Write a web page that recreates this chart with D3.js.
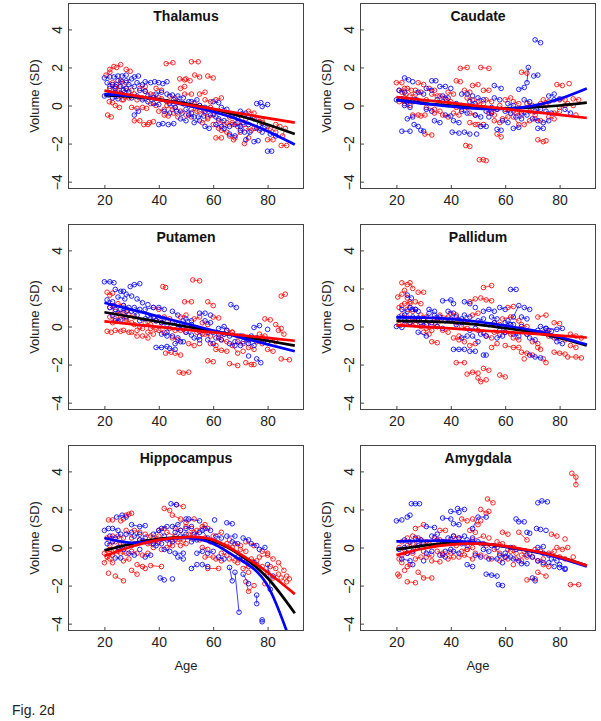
<!DOCTYPE html>
<html><head><meta charset="utf-8">
<script src="https://cdn.jsdelivr.net/npm/d3@7/dist/d3.min.js"></script>
<style>body{margin:0;background:#fff}</style>
</head><body>
<svg id="c" width="601" height="721" xmlns="http://www.w3.org/2000/svg"></svg>
<script>
// ---------- DATA ----------
const panelNames = ["Thalamus","Caudate","Putamen","Pallidum","Hippocampus","Amygdala"];
const xTicks = [20,40,60,80];
const yTicks = [-4,-2,0,2,4];
const fitAges = [20,30,40,50,60,70,80,90];

// tracks: [age, value, age, value, ...] per subject
const thalR = [[22,1.9,23.5,2.05],[24.5,2.0,26,2.15],[20.6,1.6,22,1.75],[28,1.9,29.5,1.8],[21.8,0.2,23,0.15],[21.2,-0.5,22.5,-0.6],[24,0.9,25.5,1.0],[25,0.5,26.5,0.3],[24,0.0,25.5,-0.1],[26,0.6,27.5,0.7],[27,0.3,29,0.4],[29.5,0.5,31,0.6],[23,1.2,24.5,1.1],[30,-0.1,32,-0.15],[34,-0.1,35.5,-0.15],[31,-0.8,33,-0.8],[34.5,-1.0,36,-1.0],[36.5,-0.9,38,-0.85],[42.7,2.2,45.2,2.25],[47.7,1.4,49.5,1.35],[50,1.4,51.5,1.3],[52,2.3,54.5,2.3],[53.2,1.6,55,1.5],[58,1.55,60,1.45],[35,0.75,37,0.6],[38,0.55,40,0.4],[41,0.35,43,0.2],[43,0.0,45,-0.2],[46,-0.1,48,-0.3],[42,-0.5,43.5,-0.55],[48,0.9,49.5,1.0],[49.5,0.6,52,0.6],[55,0.6,57,0.7],[57,0.3,59,0.2],[61,0.3,63,0.4],[52,-0.2,54,-0.3],[56,-0.9,58,-0.7],[59,-0.1,61,-0.3],[61,-1.7,63,-1.7],[62,-0.8,64,-1.0],[64,-0.4,66,-0.6],[66,-1.6,67.5,-1.8],[68,-1.7,70,-1.4],[67,-0.9,69,-1.1],[71.5,-2.0,73,-1.7],[70,-0.5,72,-0.7],[73,-0.3,75,-0.4],[75,-1.2,77,-1.3],[80,-1.8,82,-1.8],[83,-1.0,84.5,-1.1],[85,-2.1,87,-2.1],[85.5,-1.6,86.5,-1.2],[78,-0.9,80,-1.1],[45.5,-0.4,47,-0.6],[37,0.1,39,0.0],
  [22,1.0,24,0.9],[23,0.6,25,0.7],[26,1.3,28,1.2],[28,0.9,30,0.8],[32,0.3,34,0.4],[33,0.9,35,1.0],[39,0.9,41,0.8],[40,-0.3,42,-0.2],[44,0.5,46,0.4],[47,0.2,49,0.1],[50,-0.5,52,-0.6],[53,0.1,55,0.0],[55,-0.3,57,-0.4],[58,-0.6,60,-0.5],[60,-1.0,62,-1.2],[63,-1.3,65,-1.4],[65,-0.9,67,-1.0],[69,-0.9,71,-1.0],[72,-1.2,74,-1.3],[76,-0.7,78,-0.8],[81,-1.2,83,-1.4]];
const thalB = [[20,1.45,22,1.5],[23.5,1.5,25,1.55],[26.5,1.55,28,1.6],[25,1.3,26.5,1.25],[28,1.3,30,1.4],[31,1.5,32.5,1.55],[32,1.2,34,1.1],[35,1.25,37,1.2],[38.5,1.25,40,1.2],[41.5,1.15,43,1.25],[20,0.5,21.5,0.55],[23,0.4,25,0.35],[24,0.7,26,0.65],[27,0.8,29,0.7],[31,-0.5,32.5,-0.3],[33,0.8,35,0.75],[36,0.5,38,0.4],[40,-1.0,41.5,-0.95],[43.5,-1.0,45.5,-0.95],[38,0.1,40,0.05],[43,0.6,45,0.55],[45.5,0.3,47.5,0.2],[46.5,-0.3,48.5,-0.4],[49,0.1,51,0.2],[52,0.2,54,0.3],[54.5,-0.6,56.5,-0.55],[57,-0.3,58.5,-0.2],[57,-1.1,58.5,-1.2],[50,-0.2,52,-0.4],[60,0.2,62,0.15],[63,-0.1,65,-0.2],[62,-0.7,64,-0.8],[66,-1.5,68,-1.6],[67,-0.5,69,-0.7],[70,-1.3,71.5,-1.4],[72,-1.8,73.5,-1.4],[75,-1.9,76.5,-1.85],[71,-0.9,73,-1.0],[76,0.1,77.5,0.15],[78,-0.05,80,0.05],[80,-2.4,81.5,-2.4],[76,-1.2,78,-1.4],[44,0.1,46,-0.1],[53,-0.9,55,-0.8],
  [21,1.2,23,1.1],[22,0.9,24,1.0],[26,1.0,28,0.9],[29,1.1,31,1.0],[30,0.4,32,0.5],[34,0.3,36,0.2],[39,0.6,41,0.7],[42,-0.3,44,-0.4],[47,0.5,49,0.4],[48,-0.7,50,-0.8],[51,-0.5,53,-0.6],[55,0.0,57,-0.1],[59,-0.5,61,-0.6],[61,-1.0,63,-1.1],[64,-1.2,66,-1.1],[68,-1.0,70,-1.1],[70,-0.3,72,-0.4],[73,-0.6,75,-0.7],[77,-1.0,79,-1.1],[81,-1.5,83,-1.6]];
const caudR = [[20,1.2,22,1.2],[22,0.7,23.5,0.6],[23,0.4,24.5,0.3],[24,0.9,25.5,0.8],[25,0.5,27,0.6],[26,0.2,27.5,0.3],[28,1.2,30,1.1],[21,0.2,22.5,0.25],[26,-0.5,28,-0.5],[29,-0.55,30.5,-0.5],[30.5,-1.5,33,-1.55],[31,-0.1,34,-0.2],[33,0.6,35,0.5],[36,0.5,38,0.4],[38.5,0.3,40,0.2],[37,-0.5,39,-0.6],[42,1.3,43.5,1.25],[43.5,1.95,46,2.0],[45.5,-2.1,47,-2.15],[41,-0.4,43,-0.5],[44,0.0,46,-0.1],[48,1.05,50,1.1],[52,0.8,54,0.8],[51,2.0,54,1.95],[50.5,-2.85,52,-2.85],[53,-2.9],[47,-0.9,49,-1.0],[50,-1.0,52,-1.0],[46,0.4,48,0.3],[50,0.2,52,0.1],[54,-0.4,56,-0.5],[57,-1.5,58.5,-1.65],[56,-0.8,58,-0.9],[60,0.3,62,0.4],[63,0.2,65,0.1],[58,0.0,60,-0.2],[66,1.75,68,1.7],[63,-0.6,65,-1.0],[67,-1.0,69,-0.8],[69,-0.3,71,-0.5],[72,-1.8,74,-1.9],[75,-1.85],[73,0.1,75,0.0],[79,1.1,81,1.05],[83.5,1.15],[80,0.3,82,0.3],[85,0.35,87,0.3],[78,-0.4,80,-0.3],[86,-0.5],[76,-0.6,78,-0.7],
  [21,0.8,23,0.9],[23,0.1,25,0.0],[27,0.8,29,0.7],[29,0.2,31,0.3],[32,0.9,34,0.8],[34,-0.4,36,-0.3],[39,0.7,41,0.6],[42,-0.1,44,-0.2],[45,0.8,47,0.7],[47,-0.4,49,-0.5],[53,0.3,55,0.2],[55,-0.3,57,-0.2],[59,-0.7,61,-0.6],[61,-0.2,63,-0.3],[64,-0.4,66,-0.5],[68,0.1,70,0.0],[71,-0.7,73,-0.8],[74,0.3,76,0.2],[80,-0.1,82,0.0],[83,0.1,85,0.0]];
const caudB = [[20,0.3,22,0.35],[23,1.45,24.5,1.35],[26,1.25],[22,-1.35,25,-1.35],[24,-0.7,26,-0.6],[26.5,-1.0,28,-1.1],[29,-1.3,30,-1.35],[24,0.2,26,0.3],[28,0.7,30,0.6],[33,1.3,34.5,1.3],[36,1.0,38,1.0],[40,0.9],[38,-0.5,40,-0.55],[40.5,-1.4,43,-1.45],[45,-1.4,47,-1.5],[49.5,-1.5],[44,0.6,46,0.6],[48,0.5],[42,0.1,44,0.0],[49,-0.5,51,-0.6],[54,-0.6],[51,-1.1,53,-1.1],[56,1.05,58.5,0.9],[57,-1.25,58.5,-1.3],[55,-0.1,57,-0.2],[60,-0.3,62,-0.4],[63,-1.2,65,-1.15],[65,0.85,67,0.95],[68,1.2,68.5,2.0],[70.5,1.55,72,1.6],[71,3.45,73,3.3],[70,-0.7,72,-0.8],[74,-0.9,76,-0.8],[72,-1.2,74,-1.2],[66,-0.4,68,-0.5],[78,0.3,80,0.35],[82,-0.2,84,-0.4],[35,0.3,37,0.2],[31,-0.2,33,-0.3],
  [21,0.8,23,0.7],[23,0.0,25,-0.1],[27,0.3,29,0.2],[31,0.9,33,0.8],[34,-0.8,36,-0.9],[37,0.5,39,0.4],[41,-0.8,43,-0.9],[44,-0.3,46,-0.4],[47,0.2,49,0.1],[50,0.4,52,0.3],[53,-0.3,55,-0.4],[56,0.4,58,0.3],[59,-0.8,61,-0.9],[61,0.1,63,0.0],[64,-0.6,66,-0.7],[67,0.3,69,0.2],[71,-0.3,73,-0.2],[75,-0.3,77,-0.4],[76,0.5,78,0.6]];
const putR = [[21,1.8,22,1.65,23,1.75],[22,1.0,23.5,1.1],[24,0.8,26,0.7],[25,1.2,27,1.1],[27,0.75,28.5,0.85],[21,-0.25,22.5,-0.3],[24,-0.2,26,-0.25],[27,-0.2,29,-0.3],[30,-0.3,32,-0.5],[34,-0.5,36,-0.6],[28,0.3,30,0.2],[31,0.1,33,0.0],[35,0.2,37,0.1],[41.5,2.1,42.5,2.05],[37,-0.1,39,-0.15],[40,-0.2,42,-0.3],[42.5,-1.4,44.5,-1.35],[46,-1.4,48,-1.5],[47.5,-2.4,49,-2.45,51,-2.4],[49.5,1.3,52,1.3],[52.5,2.45,55,2.4],[48,0.5,50,0.6],[53,0.4,55,0.5],[51,-0.9,53,-1.0],[55,-0.9],[44,-0.1,46,-0.2],[58,1.3,60,1.1],[58,-1.8,60,-1.85],[60,0.5,62,0.45],[61,-1.2,63,-1.25,65,-1.3],[57,-0.4,59,-0.5],[62,-0.6,64,-0.4],[66,-1.95,69,-2.05],[67,-1.0,69,-1.4],[71,-1.3],[67,-0.3,69,-0.5],[72,-1.9,74,-2.0,75,-2.0],[71,-0.5,73,-0.7],[79,0.4,81,0.35],[80,-1.2,82,-1.3],[84,-0.2,86,-0.4],[85,1.6,86.5,1.7],[85,-1.7,88,-1.75],[83,0.1,85,-0.1],[76,-0.8,78,-0.9],[38,1.0,40,0.9],
  [22,0.5,24,0.4],[23,0.2,25,0.3],[26,0.5,28,0.4],[29,0.6,31,0.5],[32,-0.2,34,-0.1],[36,-0.3,38,-0.4],[39,0.3,41,0.2],[42,0.5,44,0.4],[45,-0.6,47,-0.7],[48,-0.2,50,-0.3],[50,0.0,52,-0.1],[54,-0.3,56,-0.4],[56,0.2,58,0.1],[59,-0.9,61,-1.0],[63,-0.7,65,-0.8],[65,-0.2,67,-0.3],[69,-0.8,71,-0.9],[73,-1.1,75,-1.2],[77,-0.4,79,-0.5],[81,-0.7,83,-0.8]];
const putB = [[20,2.35,22,2.35,23.5,2.3],[24,1.95,26,1.85,27,1.85],[29.5,2.1,31,2.2,33,2.25],[25,1.55,27.5,1.45],[28,1.7,30,1.6],[32,1.45,34,1.25],[36,1.15],[24,0.3,26,0.35],[28,0.5],[22,1.0,24,0.9],[26,0.9,28,0.8],[30,0.8,32,0.6],[35,0.9,38,1.0],[40,1.0,42,0.9],[39,-1.1,41,-1.1,43,-1.05],[43,-0.3,45,-0.5],[47,-0.6,49,-0.8],[44,-1.15,46,-1.2],[45,0.8,47,0.6],[49,0.3],[37,0.4,39,0.3],[41,0.2,43,0.1],[50,-0.3,52,-0.45],[55,-0.5],[55,0.7,57,0.7],[59,0.6],[58,-0.7,60,-0.9],[62,-0.1,64,0.0,65,-0.2],[66.5,1.15,68.5,1.0],[68,-0.8,70,-1.0],[73,-0.9,75,-1.0],[73,-1.55],[76,-1.7,77.5,-1.9],[75,-0.05,77,0.05],[80,-0.15],[52,0.1,54,-0.1],[60,-0.3,62,-0.4],[70,-0.5,72,-0.6],[47,-0.1,49,0.0],
  [21,1.4,23,1.3],[23,0.6,25,0.7],[27,1.1,29,1.0],[31,1.0,33,0.9],[33,0.3,35,0.4],[36,0.6,38,0.5],[40,0.5,42,0.4],[41,-0.4,43,-0.5],[45,0.2,47,0.1],[46,-0.9,48,-0.8],[50,0.4,52,0.3],[53,-0.6,55,-0.7],[56,-0.2,58,-0.3],[57,0.3,59,0.2],[61,-0.6,63,-0.7],[64,-0.4,66,-0.5],[66,-0.9,68,-1.0],[71,-0.8,73,-0.7],[74,-0.5,76,-0.6],[78,-0.7,80,-0.8]];
const palR = [[22,2.3,24,2.2],[25,2.3,26,2.0],[23,1.9,24,1.5],[20.5,1.55,22,1.7],[21,1.0,22,1.1],[24,0.9,25,1.2],[26,0.8,27,0.9],[28,1.8,30,1.8],[21,0.1,23,0.1],[26,0.4,28,0.3],[30,-0.3,32,-0.4],[33,0.1,35,0.0],[33,-0.8,35,-0.85],[36,0.6,39,0.5],[29,0.6,31,0.5],[42,-1.9,45,-1.9],[43,-0.5,45,-0.8],[47,-1.0,49,-0.9],[47,1.3,49,1.45],[51,1.5,53,1.4,55,1.35],[52,2.05,55,2.15],[46,-2.5,48,-2.4,50,-2.45],[50,-2.7,51,-2.9,53,-2.8],[52,-2.2,54,-2.3],[55,-1.1,57,-0.9],[58,-2.55,60,-2.65],[60,-1.0,63,-1.1,65,-1.1],[61,1.0,63,1.05],[59,0.4,62,0.5,65,0.3],[40,0.3,42,0.2],[44,0.0,46,-0.1],[50,-0.2,52,-0.3],[56,-0.3,58,-0.4],[66,-1.35,68,-1.4,70,-1.5],[67,-1.7],[72,-1.1,73,-1.2],[74,-1.7,75,-1.9],[72,0.5,75,0.6],[68,-0.4,70,-0.3],[78,0.2,80,0.15],[78,-1.35,80,-1.4,82,-1.45],[83,-1.6,86,-1.6,88,-1.65],[84,-0.4,86,-0.5,88,-0.6],[76,-0.5,78,-0.6],
  [22,0.6,24,0.5],[23,1.2,25,1.3],[25,0.2,27,0.1],[27,1.3,29,1.2],[29,0.0,31,0.1],[31,-0.1,33,-0.2],[34,0.4,36,0.3],[37,-0.2,39,-0.3],[40,0.7,42,0.6],[41,-0.6,43,-0.7],[45,0.3,47,0.2],[48,0.6,50,0.7],[53,-0.5,55,-0.6],[56,0.2,58,0.1],[60,-0.3,62,-0.4],[63,-0.6,65,-0.7],[66,0.1,68,0.0],[70,-0.8,72,-0.9],[74,-0.3,76,-0.2],[80,-0.6,82,-0.7],[84,-1.0,86,-1.1]];
const palB = [[20,0.0,22,-0.05],[22,0.9,24,0.8],[25,1.0,27,0.9],[24,1.65,25.5,1.5],[26,0.5,28,0.45],[30,0.4,32,0.7],[34,0.6,36,0.5],[28,-0.3,31,-0.5],[37,1.35,40,1.4,41,1.2],[41,-1.2,43,-1.2,45,-1.2],[44,-0.6,46,-0.5],[48,-0.5,50,-0.8],[45,1.3,47,1.2],[49,1.0],[47,-1.3,49,-1.3],[52,-1.5,53,-1.5],[52,0.8,54,0.9,56,0.8],[58,1.0,60,0.9],[62,1.95,64,1.95],[63,0.5,65,1.1],[67,1.0,69,0.9],[66,0.0,68,-0.4],[71,-0.3],[69,-1.5,71,-1.6,73,-1.65],[72,-0.2,75,-0.3,77,-0.25],[75,-0.1,79,-0.15,81,-0.1],[38,0.3,40,0.4],[42,0.5,44,0.4],[54,0.1,56,0.2],[58,-0.2,60,-0.3],[33,0.2,35,0.3],[61,0.3,63,0.1],
  [21,0.5,23,0.6],[23,0.3,25,0.2],[26,0.9,28,0.8],[29,0.2,31,0.1],[32,0.9,34,0.8],[35,0.0,37,-0.1],[39,0.8,41,0.7],[42,0.1,44,0.2],[45,0.6,47,0.5],[47,-0.2,49,-0.1],[50,0.3,52,0.4],[51,-0.4,53,-0.5],[55,0.5,57,0.4],[57,-0.6,59,-0.5],[60,0.2,62,0.1],[63,-0.4,65,-0.5],[66,0.5,68,0.4],[69,-0.6,71,-0.7],[73,0.0,75,-0.1],[77,-0.5,79,-0.6],[79,-0.8,81,-0.9]];
const hipR = [[21.5,1.45,23,1.45],[26,1.4,27,1.5],[28,1.7,29,1.75,30,1.8],[21,-0.5,22,-0.6,23,-0.8],[21.5,-1.35],[24,-1.5,27,-1.75],[20,-0.8,22,-0.3],[24,-0.1,26,0.2],[26,-0.3,28,-0.3],[22,0.1,24,0.3],[30,-1.2,32,-1.4],[32,-0.9,34,-1.0,35,-1.1],[28,0.9,30,0.5],[33,0.4,35,0.3],[30,-0.2,32,-0.3],[37,-0.95,41,-1.0],[36,0.2,38,0.0],[41,-0.1],[38,0.5,40,0.6],[42,2.05,44,1.95],[46.5,2.25,49,2.15],[45,1.7,48,1.5],[43,0.8,46,0.6],[50,1.1,52,1.0],[54,0.9,57,1.2],[50,1.3,53,1.5],[56,1.1,58,1.0],[47,0.3,49,0.4],[52,0.5,54,0.6],[44,0.2,46,0.4],[57,-0.5,60,-0.5],[58,-1.1,62,-1.1],[61,-0.6,63,-0.7],[60,0.6,63,0.8],[66,0.4],[65,0.2,67,0.0],[69,-0.8,71,-0.6],[73,-1.3],[72,-1.8,73,-2.3,75,-2.0],[72,0.3,75,0.1],[77,-0.5,80,-0.4,82,-0.6],[80,-1.3,82,-1.6,84,-1.4],[84,-0.8,86,-1.2],[87,-1.5,88,-1.65],[79,-1.9],[70,-0.1,72,-0.2],[76,-0.9,78,-1.0],[62,0.2,64,0.1],
  [20,-0.3,22,-0.1],[21,0.5,23,0.6],[23,-0.4,25,-0.2],[25,0.6,27,0.5],[27,-0.7,29,-0.6],[29,0.1,31,0.2],[31,0.9,33,0.8],[34,-0.4,36,-0.3],[35,0.7,37,0.6],[38,0.2,40,0.3],[40,0.9,42,1.0],[43,0.0,45,0.1],[46,1.0,48,0.9],[48,0.1,50,0.2],[51,0.7,53,0.8],[55,0.4,57,0.5],[56,0.0,58,-0.1],[59,0.3,61,0.2],[63,-0.3,65,-0.4],[66,-0.6,68,-0.7],[68,0.2,70,0.1],[71,-1.1,73,-1.0],[74,-0.6,76,-0.7],[78,-0.2,80,-0.3],[81,-1.0,83,-1.1],[85,-1.6,87,-1.8]];
const hipB = [[20,0.9,21.5,1.0],[24.5,1.6,26.5,1.7,28,1.6],[22,0.6,24,0.5,26,0.7],[24,-0.55,26,-0.55],[30,1.2,33,1.1,35,1.15],[27,0.2,30,0.1],[33,-0.1],[31,0.6,33,0.7],[38,0.7,40,0.9,42,0.6],[40.5,-1.6,42,-1.7],[45,-1.65],[44.5,2.3,46.5,2.25],[42,-0.1,44,-0.2],[46,-0.3,49,-0.3],[45,1.1,47,1.2,50,1.5],[51,1.5,55,1.4],[52,-1.1,54,-0.9],[56,-0.9,58,-1.0],[54,-0.3,56,-0.2],[60.5,1.45],[56,0.9,58,0.5,61,0.3],[65,1.3,67,1.25],[66,-1.05,67,-1.75],[68,-1.3,69.5,-3.4],[71,0.5,73,0.4],[71,-1.4,73,-1.9],[76,-2.5,76,-2.95],[78,-3.8,78,-3.9],[77,-0.1,79,0.0],[80,-0.9,81,-2.2],[82,-1.5],[65,0.6,68,0.6],[36,0.3,38,0.2],[48,0.6,50,0.7],[52,0.3,54,0.4],
  [21,0.2,23,0.3],[23,1.0,25,0.9],[25,0.0,27,-0.1],[28,0.7,30,0.8],[29,-0.3,31,-0.4],[33,0.4,35,0.5],[35,-0.5,37,-0.4],[39,0.1,41,0.2],[41,1.0,43,1.1],[43,0.4,45,0.3],[46,0.8,48,0.9],[47,-0.5,49,-0.6],[50,1.0,52,1.1],[53,0.7,55,0.8],[57,1.0,59,0.9],[58,-0.3,60,-0.2],[61,0.6,63,0.5],[62,-0.5,64,-0.6],[67,0.3,69,0.2],[69,-0.5,71,-0.6],[73,-0.7,75,-0.8],[74,0.2,76,0.1]];
const amyR = [[20.5,-1.4,21,-1.5],[23,-1.2],[21,-0.6,22,-0.8],[24,-1.0,25,-0.9],[22,0.3,24,0.5],[26,-0.3,28,0.2],[30,-0.2],[24,-1.8,27,-1.85],[28,-1.3,30,-1.6,33,-1.6],[27,1.0,30,1.2],[33,-0.7,36,-0.75],[36,0.9,38,0.9],[37,-0.4,40,-0.3],[43,-0.5,45,-0.4,48,-0.6],[44,1.5,46,1.4],[48,1.5,50,1.2,51,1.4],[51,2.0,53,1.8,54,1.9],[53.5,2.55,55.5,2.35],[48,0.4,52,0.6],[54,0.5],[56,-0.1,58,-0.3,60,-0.5],[59,0.8,61,0.7],[58,-0.7,61,-0.6],[63,-0.9],[65,0.8,68,0.4],[68,-1.7,71,-1.65],[70,-0.5,72,-0.7,74,-0.6],[72,-1.3,75,-1.5],[77,0.7,79,0.6],[79,0.0,81,-0.1,83,0.0],[82,0.45],[84.5,3.9,86,3.7,86,3.3],[84,-1.95,87,-1.95],[85,-0.5],[32,0.2,34,0.1],[40,0.2,42,0.1],[62,-0.2,64,-0.3],[66,-0.4,68,-0.5],[46,-0.1,48,0.0],
  [21,0.0,23,-0.1],[22,-0.4,24,-0.3],[24,0.1,26,0.2],[26,0.6,28,0.5],[27,-0.6,29,-0.5],[29,0.4,31,0.3],[31,-0.5,33,-0.4],[34,0.5,36,0.4],[35,-0.2,37,-0.3],[38,0.3,40,0.4],[39,-0.6,41,-0.5],[41,0.6,43,0.5],[44,-0.2,46,-0.1],[47,0.9,49,0.8],[49,-0.3,51,-0.4],[51,0.2,53,0.1],[53,-0.5,55,-0.6],[57,0.3,59,0.2],[61,-0.1,63,0.0],[64,-0.6,66,-0.7],[67,-0.2,69,-0.3],[71,-0.1,73,-0.2],[74,-0.9,76,-1.0],[76,-0.3,78,-0.2],[80,-0.5,82,-0.6]];
const amyB = [[20,1.4,22,1.45],[24,1.6,25,1.7],[25.5,2.3,27,2.3,28.5,2.3],[22,-0.6,25,-0.7],[26,-0.9],[30,-0.7],[31,1.1,34,1.05],[37,1.55,40,1.5],[40,1.9,43,1.85],[42.5,2.05,45,2.0],[41,1.25,43,1.2],[43,0.5,45,0.6],[48,0.5],[46,-0.9,48,-1.0],[48,1.0,50,1.6,53,1.6],[53,-1.4,55,-1.45,57,-1.5],[57.5,-1.95,59,-2.0],[54,-0.6,57,-0.6],[59,-0.8],[64,1.5,65,1.35,67,1.35],[66,-0.85,68,-0.85],[68,0.8,69,0.75],[71.5,1.0,73,0.95],[72,2.35,73.5,2.45,75.5,2.4],[75,0.9],[72,0.0,74,0.05],[70,-1.6,71,-1.75],[76,-0.8,78,-1.0],[80,-0.9,82,-1.1],[80,-1.05,82,-1.15],[28,0.1,30,0.2],[35,0.4,37,0.3],[38,-0.2,40,-0.1],[60,-0.3,62,-0.5],
  [21,-0.1,23,0.0],[23,0.4,25,0.3],[24,-0.3,26,-0.2],[27,0.5,29,0.4],[31,-0.3,33,-0.2],[33,0.6,35,0.7],[36,-0.4,38,-0.5],[39,0.5,41,0.6],[41,-0.2,43,-0.3],[44,0.2,46,0.1],[46,0.4,48,0.3],[49,-0.4,51,-0.5],[50,0.3,52,0.2],[52,-0.1,54,-0.2],[55,0.1,57,0.0],[58,-0.4,60,-0.5],[62,0.0,64,-0.1],[63,-0.6,65,-0.7],[68,-0.4,70,-0.5],[72,-0.7,74,-0.8],[74,-0.3,76,-0.4],[77,-0.6,79,-0.7]];

// fitted curves, values at fitAges
const fitBlack = [
  [0.55,0.47,0.33,0.10,-0.20,-0.55,-1.00,-1.50],
  [0.30,0.12,0.00,-0.12,-0.15,-0.10,0.00,0.15],
  [0.75,0.50,0.25,0.00,-0.25,-0.50,-0.75,-1.00],
  [0.30,0.27,0.22,0.10,-0.08,-0.30,-0.60,-1.00],
  [-0.15,0.20,0.45,0.55,0.35,-0.40,-1.60,-3.45],
  [-0.10,0.10,0.25,0.22,0.05,-0.20,-0.50,-0.95]];
const fitRed = [
  [0.78,0.54,0.30,0.06,-0.18,-0.42,-0.66,-0.90],
  [0.45,0.29,0.14,-0.02,-0.18,-0.33,-0.49,-0.65],
  [0.27,0.12,-0.02,-0.17,-0.31,-0.46,-0.60,-0.75],
  [0.07,-0.02,-0.10,-0.20,-0.28,-0.37,-0.48,-0.58],
  [-0.45,0.05,0.40,0.55,0.40,-0.35,-1.30,-2.45],
  [-0.40,-0.05,0.15,0.20,0.07,-0.17,-0.50,-0.95]];
const fitBlue = [
  [0.60,0.50,0.30,0.02,-0.33,-0.77,-1.35,-2.05],
  [0.30,0.10,-0.05,-0.17,-0.17,-0.02,0.35,0.90],
  [1.25,0.89,0.52,0.16,-0.21,-0.57,-0.94,-1.30],
  [0.48,0.47,0.40,0.25,0.05,-0.20,-0.55,-0.95],
  [0.50,0.25,0.38,0.50,0.20,-0.65,-2.00,-5.60],
  [0.32,0.35,0.35,0.25,0.05,-0.20,-0.55,-1.00]];

const redTracks = [thalR, caudR, putR, palR, hipR, amyR];
const blueTracks = [thalB, caudB, putB, palB, hipB, amyB];

// ---------- LAYOUT ----------
const RED = "#ff0000", BLUE = "#0000ff", BOX = "#444";
const colX = [68.5, 360.5], rowY = [3.5, 224.5, 445.5];
const W = 235, H = 185;
const FONT = "'Liberation Sans', Arial, sans-serif";

const svg = d3.select("#c");
const defs = svg.append("defs");

panelNames.forEach((name, i) => {
  const col = i % 2, row = Math.floor(i / 2);
  const x0 = colX[col], y0 = rowY[row];
  const x = d3.scaleLinear().domain([6.8, 93.2]).range([x0, x0 + W]);
  const y = d3.scaleLinear().domain([-4.36, 5.36]).range([y0 + H, y0]);

  defs.append("clipPath").attr("id", "clip" + i)
    .append("rect").attr("x", x0).attr("y", y0).attr("width", W).attr("height", H);

  const g = svg.append("g");
  const plot = g.append("g").attr("clip-path", `url(#clip${i})`);

  function drawTracks(tracks, color) {
    tracks.forEach(t => {
      const pts = [];
      for (let k = 0; k < t.length; k += 2) pts.push([t[k], t[k + 1]]);
      if (pts.length > 1) {
        plot.append("path")
          .attr("d", d3.line().x(d => x(d[0])).y(d => y(d[1]))(pts))
          .attr("fill", "none").attr("stroke", color).attr("stroke-width", 0.75);
      }
      plot.selectAll(null).data(pts).join("circle")
        .attr("cx", d => x(d[0])).attr("cy", d => y(d[1])).attr("r", 2.3)
        .attr("fill", "none").attr("stroke", color).attr("stroke-width", 0.85);
    });
  }
  drawTracks(redTracks[i], RED);
  drawTracks(blueTracks[i], BLUE);

  const fitLine = d3.line().curve(d3.curveNatural)
    .x((d, k) => x(fitAges[k])).y(d => y(d));
  [[fitBlack[i], "#000"], [fitBlue[i], BLUE], [fitRed[i], RED]].forEach(([vals, c]) => {
    plot.append("path").attr("d", fitLine(vals))
      .attr("fill", "none").attr("stroke", c).attr("stroke-width", 2.7);
  });

  // box
  g.append("rect").attr("x", x0).attr("y", y0).attr("width", W).attr("height", H)
    .attr("fill", "none").attr("stroke", BOX).attr("stroke-width", 1);

  // x axis
  const xa = g.append("g").attr("transform", `translate(0,${y0 + H})`)
    .call(d3.axisBottom(x).tickValues(xTicks).tickSize(-3.5).tickPadding(6.5).tickFormat(d3.format("d")));
  xa.select(".domain").remove();
  xa.selectAll("line").attr("stroke", BOX);
  xa.selectAll("text").attr("font-family", FONT).attr("font-size", 14).attr("fill", "#222");

  // y axis
  const ya = g.append("g").attr("transform", `translate(${x0},0)`)
    .call(d3.axisLeft(y).tickValues(yTicks).tickSize(-3.5).tickFormat(d => d < 0 ? "\u2212" + Math.abs(d) : d));
  ya.select(".domain").remove();
  ya.selectAll("line").attr("stroke", BOX);
  ya.selectAll("text").attr("x", null).attr("dy", null)
    .attr("text-anchor", "middle").attr("transform", "translate(-7,0) rotate(-90)")
    .attr("font-family", FONT).attr("font-size", 14).attr("fill", "#222");

  // title
  g.append("text").attr("x", x0 + W / 2).attr("y", y0 + 17.5)
    .attr("text-anchor", "middle").attr("font-family", FONT).attr("font-weight", "bold")
    .attr("font-size", 14).attr("fill", "#111").text(name);

  // y label
  g.append("text").attr("transform", `translate(${x0 - 29.5},${y0 + H / 2}) rotate(-90)`)
    .attr("text-anchor", "middle").attr("font-family", FONT).attr("font-size", 13)
    .attr("fill", "#222").text("Volume (SD)");

  // x label on bottom row
  if (row === 2) {
    g.append("text").attr("x", x0 + W / 2).attr("y", y0 + H + 39.5)
      .attr("text-anchor", "middle").attr("font-family", FONT).attr("font-size", 13)
      .attr("fill", "#222").text("Age");
  }
});

svg.append("text").attr("x", 12).attr("y", 715)
  .attr("font-family", FONT).attr("font-size", 14).attr("fill", "#222").text("Fig. 2d");
</script>
</body></html>
